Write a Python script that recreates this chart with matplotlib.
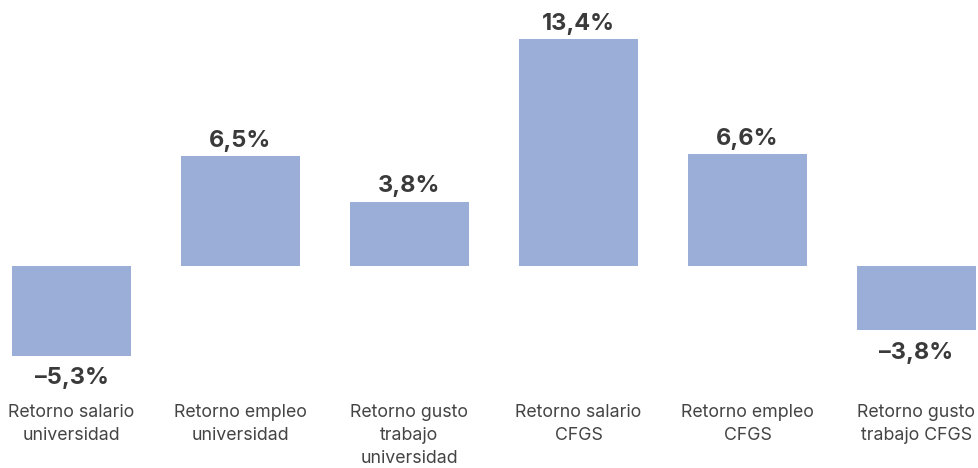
import matplotlib.pyplot as plt
import matplotlib.transforms as mtransforms

categories = ["Retorno salario\nuniversidad", "Retorno empleo\nuniversidad",
              "Retorno gusto\ntrabajo\nuniversidad", "Retorno salario\nCFGS",
              "Retorno empleo\nCFGS", "Retorno gusto\ntrabajo CFGS"]
values = [-5.3, 6.5, 3.8, 13.4, 6.6, -3.8]

plt.rcParams['font.family'] = ['Inter', 'DejaVu Sans']

fig = plt.figure(figsize=(9.79, 4.68), dpi=100)
ax = fig.add_axes([0, 0, 1, 1])
x = list(range(len(values)))
ax.bar(x, values, width=0.704, color="#9aaed8")
ax.set_xlim(-0.423, 5.370)
ax.set_ylim(-11.92, 15.70)
ax.axis("off")

# etiquetas de valor encima / debajo de cada barra
for xi, v in zip(x, values):
    txt = f"{v:.1f}%".replace(".", ",").replace("-", "\u2013")
    if v >= 0:
        ax.annotate(txt, (xi, v), xytext=(0, 3), textcoords="offset points",
                    ha="center", va="bottom", fontsize=17, fontweight="bold", color="#3a3a3a")
    else:
        ax.annotate(txt, (xi, v), xytext=(0, -8), textcoords="offset points",
                    ha="center", va="top", fontsize=17, fontweight="bold", color="#3a3a3a")

# nombres de categoría bajo el gráfico
trans = mtransforms.blended_transform_factory(ax.transData, ax.transAxes)
for xi, c in zip(x, categories):
    ax.text(xi, 1 - 404 / 468, c, transform=trans, ha="center", va="top",
            fontsize=12.8, color="#444444", linespacing=1.48)

fig.savefig("out.png", dpi=100)
